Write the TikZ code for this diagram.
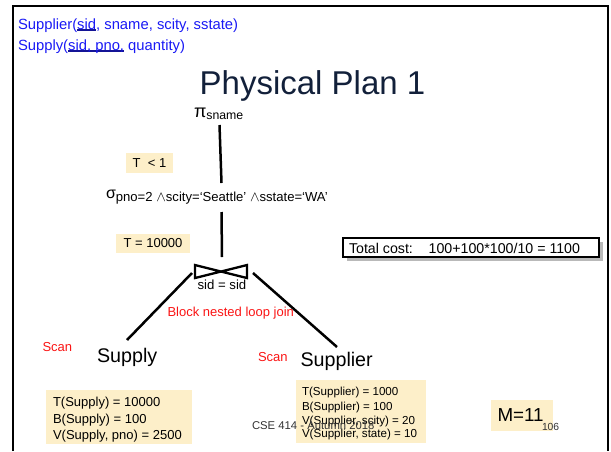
\documentclass[tikz,border=0pt]{standalone}
\usepackage{fontspec}
\setmainfont{Liberation Sans}
\definecolor{schemablue}{RGB}{25,25,245}
\definecolor{keyline}{RGB}{20,20,150}
\definecolor{titlecol}{RGB}{18,32,58}
\definecolor{cream}{RGB}{253,239,201}
\definecolor{notered}{RGB}{250,20,20}
\definecolor{footgray}{RGB}{50,50,50}
% underline drawn at a fixed depth, through descenders
\newcommand\keyul[1]{\setbox0\hbox{#1}\rlap{\color{keyline}\rule[-1.9pt]{\wd0}{1.5pt}}\box0\relax}
\newcommand\fs[1]{\fontsize{#1}{#1}\selectfont}
\newcommand\andop{{\fs{14.5}$\wedge$}}
\begin{document}
\begin{tikzpicture}[x=1pt,y=-1pt,
  every node/.style={inner sep=0pt,outer sep=0pt},
  txt/.style={anchor=base west},
  edge/.style={line width=2.5pt,line cap=butt},
  statbox/.style={fill=cream,draw=none},
  notelabel/.style={txt,text=notered,font=\fs{13}}]
\useasboundingbox (0,0) rectangle (611,451);

% slide frame
\draw[line width=2.6pt] (13,451) -- (13,6) -- (608,6) -- (608,451);

% schema
\node[txt,text=schemablue,font=\fs{14.8}] (schema1) at (18,29)
  {Supplier(\keyul{sid}, sname, scity, sstate)};
\node[txt,text=schemablue,font=\fs{14.8}] (schema2) at (18,50)
  {Supply(\keyul{sid, pno,} quantity)};

% title
\node[anchor=base,text=titlecol,font=\fs{33}] (title) at (312.5,94) {Physical Plan 1};

% projection and selection operators
\node[txt] (proj) at (194,117) {{\fs{18}π}\raisebox{-2.5pt}{\fs{12.3}sname}};
\node[txt] (sel) at (106,198)
  {{\fs{16}σ}\raisebox{-3pt}{\fs{13.1}pno=2 \andop scity=‘Seattle’ \andop sstate=‘WA’}};

% cardinality notes
\node[statbox,minimum width=47,minimum height=20,font=\fs{13}] (tlt) at (149.5,163) {T \ < 1};
\node[statbox,minimum width=74,minimum height=19,font=\fs{13}] (teq) at (153,243.5) {T = 10000};

% total cost box with shadow
\fill[gray!55] (346.5,241.5) rectangle (602.5,260.5);
\node[draw,fill=white,line width=1.4pt,anchor=north west,minimum width=256,minimum height=19] (cost) at (343,238) {};
\node[txt,font=\fs{14.2}] (costtext) at (349,253.3) {Total cost:\ \ \ \ 100+100*100/10 = 1100};

% join symbol
\coordinate (jtl) at (195,265);
\coordinate (jtr) at (247,265);
\coordinate (jbl) at (195,278);
\coordinate (jbr) at (247,278);
\draw[edge,line width=2.3pt,line join=miter] (jtl) -- (jbr) -- (jtr) -- (jbl) -- cycle;
\node[txt,font=\fs{13.2}] (joincond) at (197.5,289) {sid = sid};
\node[notelabel] (bnlj) at (167.5,316) {Block nested loop join};

% leaves
\node[txt,font=\fs{19.7}] (supply) at (97,362) {Supply};
\node[txt,font=\fs{19.7}] (supplier) at (300.5,366) {Supplier};
\node[notelabel] (scan1) at (42.5,351) {Scan};
\node[notelabel] (scan2) at (258,361) {Scan};

% tree edges
\coordinate (projB) at (219.5,125);
\coordinate (selT) at (221.5,183);
\coordinate (selB) at (221.5,212);
\coordinate (joinT) at (222,257);
\coordinate (joinL) at (192,273);
\coordinate (supplyT) at (127,340);
\coordinate (joinR) at (253,273);
\coordinate (supplierT) at (337,347);
\draw[edge] (projB) -- (selT);
\draw[edge] (selB) -- (joinT);
\draw[edge] (joinL) -- (supplyT);
\draw[edge] (joinR) -- (supplierT);

% statistics
\fill[cream] (46,390) rectangle (192,444);
\node[txt,font=\fs{13}] (st1) at (53,406.5) {T(Supply) = 10000};
\node[txt,font=\fs{13}] (st2) at (53,423) {B(Supply) = 100};
\node[txt,font=\fs{13}] (st3) at (53,439.3) {V(Supply, pno) = 2500};

\fill[cream] (296,380) rectangle (426,443);
\node[txt,font=\fs{11.6}] (sr1) at (302,395) {T(Supplier) = 1000};
\node[txt,font=\fs{11.6}] (sr2) at (302,410) {B(Supplier) = 100};
\node[txt,font=\fs{11.6}] (sr3) at (302,424.3) {V(Supplier, scity) = 20};
\node[txt,font=\fs{11.6}] (sr4) at (302,437) {V(Supplier, state) = 10};

\fill[cream] (491,400) rectangle (553,431);
\node[txt,font=\fs{18.8}] (mem) at (497.5,421.7) {M=11};

% footer
\node[txt,text=footgray,font=\fs{11.3}] (footer) at (252,429) {CSE 414 - Autumn 2018};
\node[txt,text=footgray,font=\fs{10.3}] (pageno) at (542,430) {106};
\end{tikzpicture}
\end{document}
